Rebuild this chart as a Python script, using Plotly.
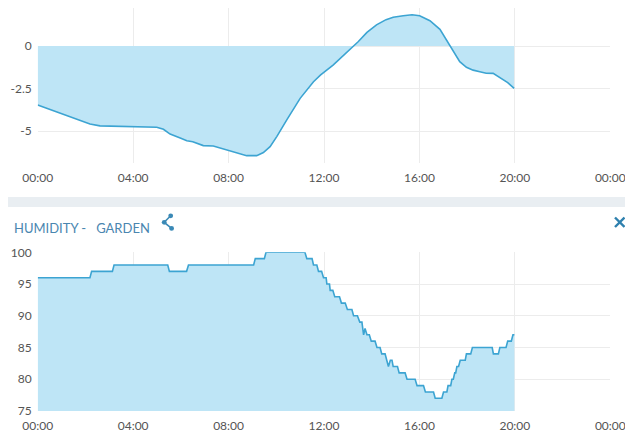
import plotly.graph_objects as go

# The page body has an 8px margin, so the figure is placed 8px right/down.
OFF = 8
W, H = 633 - OFF, 439 - OFF

# ---- data ----
temp_hours = [0.0, 0.5, 1.0, 1.5, 2.19, 2.61, 3.0, 4.0, 4.99, 5.27, 5.55, 6.0, 6.25, 6.5,
              6.94, 7.36, 8.0, 8.4, 8.76, 9.18, 9.46, 9.74, 10.02, 10.44, 11.0, 11.56,
              11.86, 12.38, 12.8, 13.22, 13.43, 13.8, 14.2, 14.6, 14.9, 15.32, 15.69,
              16.01, 16.44, 16.86, 17.27, 17.69, 17.97, 18.25, 18.53, 18.8, 19.09, 19.37,
              19.7, 19.97]
temp_values = [-3.47, -3.72, -3.98, -4.25, -4.59, -4.7, -4.72, -4.75, -4.78, -4.9, -5.18,
               -5.42, -5.57, -5.63, -5.86, -5.88, -6.12, -6.3, -6.45, -6.45, -6.27, -5.92,
               -5.33, -4.35, -3.08, -2.1, -1.7, -1.12, -0.58, -0.04, 0.25, 0.8, 1.24,
               1.55, 1.69, 1.78, 1.84, 1.78, 1.49, 0.98, 0.06, -0.92, -1.25, -1.42, -1.51,
               -1.6, -1.61, -1.84, -2.15, -2.49]

hum_hours = [0.0, 2.19, 2.26, 3.13, 3.2, 5.45, 5.52, 6.24, 6.32, 9.05, 9.12, 9.5, 9.57,
             11.2, 11.28, 11.5, 11.56, 11.7, 11.77, 11.9, 11.98, 12.09, 12.12, 12.23,
             12.26, 12.37, 12.45, 12.65, 12.73, 12.89, 12.98, 13.17, 13.24, 13.4, 13.5,
             13.59, 13.66, 13.72, 13.8, 13.9, 13.98, 14.14, 14.22, 14.35, 14.42, 14.56,
             14.63, 14.7, 14.78, 14.85, 14.9, 15.08, 15.15, 15.4, 15.48, 15.82, 15.9,
             16.17, 16.25, 16.59, 16.66, 16.94, 17.01, 17.15, 17.2, 17.31, 17.36, 17.42,
             17.48, 17.52, 17.57, 17.64, 17.71, 17.92, 17.97, 18.15, 18.22, 19.05, 19.1,
             19.31, 19.37, 19.63, 19.7, 19.85, 19.92, 19.98]
hum_values = [96, 96, 97, 97, 98, 98, 97, 97, 98, 98, 99, 99, 100,
              100, 99, 99, 98, 98, 97, 97, 96, 96, 95, 95,
              94, 94, 93, 93, 92, 92, 91, 91, 90, 90, 89,
              89, 87, 88, 87, 87, 86, 86, 85, 85, 84, 84,
              83, 82, 83, 83, 82, 82, 81, 81, 80, 80, 79,
              79, 78, 78, 77, 77, 78, 78, 79, 79, 80, 80,
              81, 81, 82, 82, 83, 83, 84, 84, 85, 85, 84,
              84, 85, 85, 86, 86, 87, 87]

x_tick_hours = [0, 4, 8, 12, 16, 20, 24]
x_tick_labels = ["00:00", "04:00", "08:00", "12:00", "16:00", "20:00", "00:00"]
temp_ticks = [-5, -2.5, 0]
temp_tick_labels = ["-5", "-2.5", "0"]
hum_ticks = [75, 80, 85, 90, 95, 100]
title_text = "HUMIDITY -&nbsp;&nbsp; GARDEN"

LINE = "#3ca4d2"
FILL = "rgba(190,229,246,1)"
GRID = "#ececec"
FONT = "Lato"


def fx(p):
    # page x pixel -> paper fraction
    return (p - OFF) / W


def fy(p):
    # page y pixel -> paper fraction
    return 1 - (p - OFF) / H


fig = go.Figure()
fig.add_trace(go.Scatter(x=temp_hours, y=temp_values, mode="lines", fill="tozeroy",
                         fillcolor=FILL, line=dict(color=LINE, width=1.6),
                         xaxis="x", yaxis="y", hoverinfo="skip"))
fig.add_trace(go.Scatter(x=hum_hours, y=hum_values, mode="lines", fill="tozeroy",
                         fillcolor=FILL, line=dict(color=LINE, width=1.6),
                         xaxis="x2", yaxis="y2", hoverinfo="skip"))

xdom = [fx(37.7), fx(610.3)]
axis_font = dict(family=FONT, size=12, color="#555555")
common_x = dict(domain=xdom, range=[0, 24], tickvals=x_tick_hours, ticktext=x_tick_labels,
                showgrid=True, gridcolor=GRID, gridwidth=1, zeroline=False, showline=False,
                ticks="", tickfont=axis_font, fixedrange=True, automargin=False)
common_y = dict(showgrid=True, gridcolor=GRID, zeroline=False, ticks="",
                tickfont=axis_font, automargin=False, ticklabelstandoff=5)

# top panel: value 0 at page y 46, 17 px per unit; visible from page y 8 (figure top)
top_max = (46 - 8) / 17.0
top_min = (46 - 163) / 17.0

fig.update_layout(
    width=W, height=H, margin=dict(l=0, r=0, t=0, b=0, autoexpand=False),
    paper_bgcolor="white", plot_bgcolor="white", showlegend=False,
    xaxis=dict(**common_x, anchor="y", ticklabelstandoff=6),
    yaxis=dict(**common_y, domain=[fy(163), 1.0], range=[top_min, top_max],
               tickvals=temp_ticks, ticktext=temp_tick_labels, anchor="x"),
    xaxis2=dict(**common_x, anchor="y2", ticklabelstandoff=6),
    yaxis2=dict(**common_y, domain=[fy(411), fy(252.3)], range=[75, 100],
                tickvals=hum_ticks, anchor="x2"),
)

shapes = []
# separator band between panels
shapes.append(dict(type="rect", xref="paper", yref="paper", x0=0, x1=1,
                   y0=fy(207), y1=fy(197), fillcolor="#e9eef2", line=dict(width=0),
                   layer="below"))
# share icon
ICON = "#3a89b6"
pts = [(164.2, 222.3), (170.7, 215.8), (171.6, 228.4)]
for (a, b) in [(pts[0], pts[1]), (pts[0], pts[2])]:
    shapes.append(dict(type="line", xref="paper", yref="paper", x0=fx(a[0]), y0=fy(a[1]),
                       x1=fx(b[0]), y1=fy(b[1]), line=dict(color=ICON, width=1.6)))
for (cx, cy) in pts:
    r = 2.4
    shapes.append(dict(type="circle", xref="paper", yref="paper", x0=fx(cx - r), x1=fx(cx + r),
                       y0=fy(cy + r), y1=fy(cy - r), fillcolor=ICON, line=dict(width=0)))
# close icon
for (a, b) in [((615, 217.5), (624.5, 227)), ((615, 227), (624.5, 217.5))]:
    shapes.append(dict(type="line", xref="paper", yref="paper", x0=fx(a[0]), y0=fy(a[1]),
                       x1=fx(b[0]), y1=fy(b[1]), line=dict(color="#2f80ae", width=2.4)))
fig.update_layout(shapes=shapes)

fig.add_annotation(text=title_text, xref="paper", yref="paper", x=fx(11.5), y=fy(228),
                   xanchor="left", yanchor="middle", showarrow=False,
                   font=dict(family=FONT, size=13, color="#4a86b0"))

fig.write_html("out.html")
